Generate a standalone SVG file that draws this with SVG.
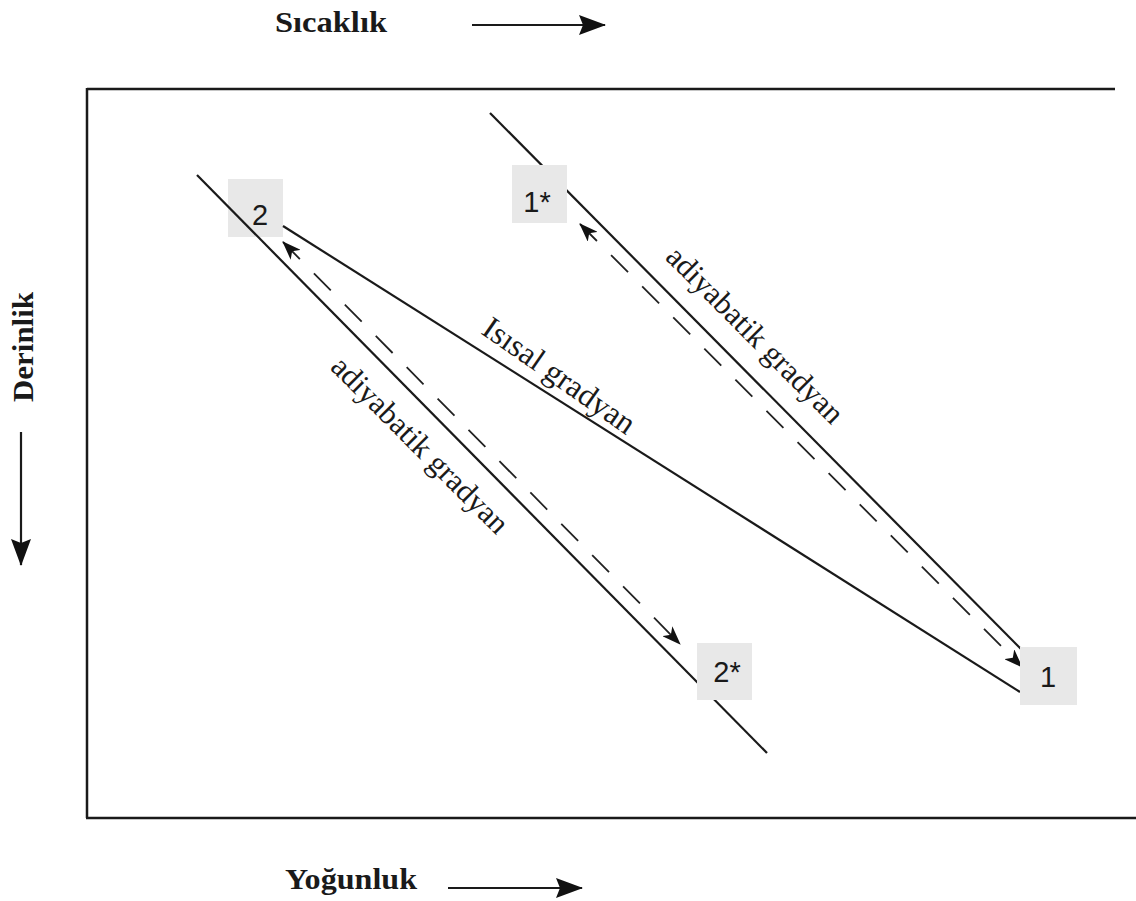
<svg xmlns="http://www.w3.org/2000/svg" width="1136" height="901" viewBox="0 0 1136 901">
<style>
.frame{stroke:#1a1a1a;stroke-width:2.5;fill:none}
.solid{stroke:#1a1a1a;stroke-width:2.2;fill:none}
.dash{stroke:#222;stroke-width:1.8;fill:none;stroke-dasharray:24 20}
.box{fill:#e8e8e8;stroke:none}
.num{font-family:"Liberation Sans",Arial,sans-serif;font-size:29px;fill:#1a1a1a;text-anchor:middle}
.lbl{font-family:"Liberation Serif","Times New Roman",serif;font-size:31px;fill:#1a1a1a;text-anchor:middle}
.axis{font-family:"Liberation Serif","Times New Roman",serif;font-size:29px;font-weight:bold;fill:#1a1a1a}
.axarrow{stroke:#1a1a1a;stroke-width:2.2;fill:none}
</style>
<defs>
<marker id="ah" markerUnits="userSpaceOnUse" markerWidth="20" markerHeight="14" refX="18" refY="7" orient="auto-start-reverse" viewBox="0 0 20 14">
<path d="M0,0 L19,7 L0,14 L5,7 z" fill="#111"/>
</marker>
<marker id="axh" markerUnits="userSpaceOnUse" markerWidth="28" markerHeight="20" refX="26" refY="10" orient="auto" viewBox="0 0 28 20">
<path d="M0,0 L27,10 L0,20 L4,10 z" fill="#111"/>
</marker>
</defs>

<g id="frame">
<path class="frame" d="M87,89 L1115,89 M87,88 L87,818 M86,818 L1136,818"/>
</g>

<g id="axis-labels">
<text class="axis" x="275" y="32" textLength="112" lengthAdjust="spacingAndGlyphs">Sıcaklık</text>
<line class="axarrow" x1="472" y1="25" x2="605" y2="25" marker-end="url(#axh)"/>
<text class="axis" transform="translate(33,402) rotate(-90)" x="0" y="0" textLength="110" lengthAdjust="spacingAndGlyphs">Derinlik</text>
<line class="axarrow" x1="21" y1="432" x2="21" y2="565" stroke="#444" stroke-width="3" marker-end="url(#axh)"/>
<text class="axis" x="285" y="889" textLength="132" lengthAdjust="spacingAndGlyphs">Yoğunluk</text>
<line class="axarrow" x1="448" y1="888" x2="582" y2="888" marker-end="url(#axh)"/>
</g>

<g id="node-2">
<rect class="box" x="228" y="179" width="55" height="58"/>
<text class="num" x="260" y="225">2</text>
</g>

<g id="connectors">
<line class="solid" x1="197" y1="175" x2="767" y2="753"/>
<line class="solid" x1="490" y1="113" x2="1022" y2="650"/>
<line class="solid" x1="283" y1="226" x2="1020" y2="692"/>
<line class="dash" x1="283" y1="242" x2="680" y2="644" marker-start="url(#ah)" marker-end="url(#ah)"/>
<line class="dash" x1="580" y1="224" x2="1022" y2="667" marker-start="url(#ah)" marker-end="url(#ah)"/>
</g>

<g id="node-1star">
<rect class="box" x="512" y="165" width="55" height="58"/>
<text class="num" x="537" y="212">1*</text>
</g>
<g id="node-2star">
<rect class="box" x="697" y="643" width="55" height="57"/>
<text class="num" x="727" y="682">2*</text>
</g>
<g id="node-1">
<rect class="box" x="1020" y="647" width="57" height="58"/>
<text class="num" x="1048" y="687">1</text>
</g>

<g id="edge-labels">
<text class="lbl" transform="translate(755,335) rotate(45)" x="0" y="10">adiyabatik gradyan</text>
<text class="lbl" transform="translate(420,445) rotate(45)" x="0" y="10">adiyabatik gradyan</text>
<text class="lbl" transform="translate(559,376) rotate(35)" x="0" y="10" style="font-size:32px">Isısal gradyan</text>
</g>
</svg>
